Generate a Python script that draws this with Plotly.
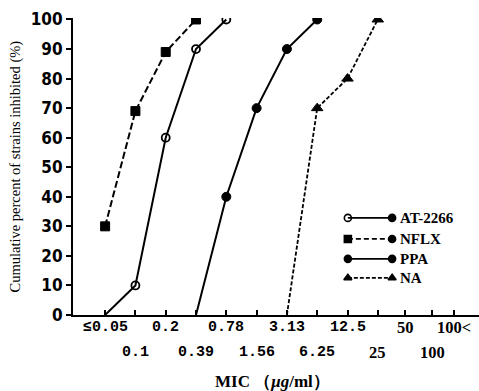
import plotly.graph_objects as go

# Categories (MIC, µg/ml) and their positions along the axis
mic_labels = ["≤0.05", "0.1", "0.2", "0.39", "0.78", "1.56", "3.13", "6.25",
              "12.5", "25", "50", "100", "100<"]
mic_pos = [0, 1, 2, 3, 4, 5, 6, 7, 8, 9, 9.9, 10.8, 11.5]
label_row = [0, 1, 0, 1, 0, 1, 0, 1, 0, 1, 0, 1, 0]

# Series: category index, cumulative percent
at_x = [0, 1, 2, 3, 4]
at_y = [0, 10, 60, 90, 100]
nflx_x = [0, 1, 2, 3]
nflx_y = [30, 69, 89, 100]
ppa_x = [3, 4, 5, 6, 7]
ppa_y = [0, 40, 70, 90, 100]
na_x = [6, 7, 8, 9]
na_y = [0, 70, 80, 100]

yticks = [0, 10, 20, 30, 40, 50, 60, 70, 80, 90, 100]

W, H = 479, 391
ML, MR, MT, MB = 73, 0, 18, 76

fig = go.Figure()

def px(i):
    return [mic_pos[k] for k in i]

lw = 2
BLK = "#000000"
mline = dict(width=1, color=BLK)
fig.add_trace(go.Scatter(x=px(at_x), y=at_y, mode="lines+markers",
    line=dict(color=BLK, width=lw),
    marker=dict(symbol="circle-open", size=[0, 8, 8, 8, 8], color=BLK, opacity=1,
                line=dict(width=1.8, color=BLK)),
    showlegend=False))
fig.add_trace(go.Scatter(x=px(nflx_x), y=nflx_y, mode="lines+markers",
    line=dict(color=BLK, width=lw, dash="7px,3px"),
    marker=dict(symbol="square", size=9, color=BLK, opacity=1, line=mline),
    showlegend=False))
fig.add_trace(go.Scatter(x=px(ppa_x), y=ppa_y, mode="lines+markers",
    line=dict(color=BLK, width=lw),
    marker=dict(symbol="circle", size=[0, 9, 9, 9, 9], color=BLK, opacity=1, line=mline),
    showlegend=False))
fig.add_trace(go.Scatter(x=px(na_x), y=na_y, mode="lines+markers",
    line=dict(color=BLK, width=1.8, dash="4px,2px"),
    marker=dict(symbol="triangle-up", size=[0, 10, 10, 10], color=BLK, opacity=1, line=mline),
    showlegend=False))

# Custom legend on overlay axis (fraction coordinates of plot area)
legend_names = ["AT-2266", "NFLX", "PPA", "NA"]
legend_y = [0.327, 0.256, 0.189, 0.125]
legend_dash = ["solid", "5px,3px", "solid", "4px,2px"]
legend_left = ["circle-open", "square", "circle", "triangle-up"]
legend_right = ["circle", "circle", "circle", "triangle-up"]
x0, x1, xt = 0.677, 0.786, 0.80
for name, yy, d, sl, sr in zip(legend_names, legend_y, legend_dash, legend_left, legend_right):
    fig.add_trace(go.Scatter(x=[x0, x1], y=[yy, yy], mode="lines+markers",
        xaxis="x2", yaxis="y2",
        line=dict(color=BLK, width=1.8, dash=d),
        marker=dict(symbol=[sl, sr], size=[7, 7], color=BLK, opacity=1,
                    line=dict(width=1.6, color=BLK)),
        showlegend=False))
    fig.add_annotation(x=xt, y=yy, xref="x2", yref="y2", text=name,
        showarrow=False, xanchor="left", yanchor="middle",
        font=dict(family="Liberation Serif", size=15, color=BLK, weight="bold"))

# X tick labels in two rows
for lab, p, r in zip(mic_labels, mic_pos, label_row):
    if "." in lab:
        fam, sz = "Liberation Mono", 15
    else:
        fam, sz = "Liberation Serif", 16.5
    fig.add_annotation(x=p, y=0, xref="x", yref="paper", text=lab,
        showarrow=False, xanchor="center", yanchor="middle",
        yshift=-12 - 25 * r,
        font=dict(family=fam, size=sz, color=BLK, weight="bold"))

fig.add_annotation(x=(272 - ML) / (W - ML - MR), y=0, xref="paper", yref="paper",
    text="MIC （<i>μg</i>/ml）", showarrow=False, xanchor="center", yanchor="middle",
    yshift=-(381 - (H - MB)),
    font=dict(family="Liberation Serif", size=17, color=BLK, weight="bold"))

fig.add_annotation(x=(15 - ML) / (W - ML - MR), y=0.5, xref="paper", yref="paper",
    text="Cumulative percent of strains inhibited (%)", textangle=-90,
    showarrow=False, xanchor="center", yanchor="middle",
    font=dict(family="Liberation Serif", size=14.5, color=BLK))

fig.update_layout(
    width=W, height=H,
    margin=dict(l=ML, r=MR, t=MT, b=MB),
    paper_bgcolor="white", plot_bgcolor="white",
    xaxis=dict(range=[-1.06, 12.34], tickvals=mic_pos, ticktext=[""] * len(mic_pos),
               ticks="inside", ticklen=5, tickwidth=1.5, tickcolor=BLK,
               showline=True, linecolor=BLK, linewidth=2,
               showgrid=False, zeroline=False, fixedrange=True),
    yaxis=dict(range=[0, 100.5], tickvals=yticks,
               ticks="outside", ticklen=5, tickwidth=1.5, tickcolor=BLK,
               showline=True, linecolor=BLK, linewidth=2,
               showgrid=False, zeroline=False,
               tickfont=dict(family="Liberation Sans Narrow, DejaVu Sans Condensed", size=17,
                             color=BLK, weight="bold")),
    xaxis2=dict(overlaying="x", range=[0, 1], visible=False),
    yaxis2=dict(overlaying="y", range=[0, 1], visible=False),
)

fig.write_html("out.html")
